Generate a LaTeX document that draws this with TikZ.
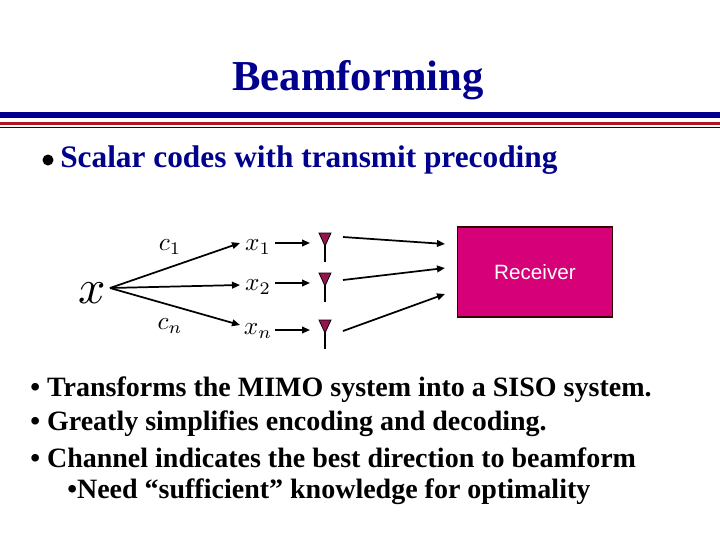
\documentclass[tikz,border=0pt]{standalone}
\usepackage{fontspec}
\setmainfont{Liberation Serif}
\newfontfamily\sansf{Liberation Sans}
\usetikzlibrary{arrows.meta}
\definecolor{navy}{RGB}{0,0,140}
\definecolor{redl}{RGB}{180,20,30}
\definecolor{mag}{RGB}{214,0,120}
\definecolor{antc}{RGB}{150,20,80}
\newcommand{\biglbl}[1]{\scalebox{1.9}{$#1$}}
\begin{document}
\begin{tikzpicture}[x=0.75pt,y=-0.75pt,
  arr/.style={-{Triangle[length=6pt,width=5pt]},line width=1.3pt},
  lbl/.style={inner sep=0pt},
  ant/.style={fill=antc,draw=black,line width=0.6pt},
  body/.style={anchor=west,font=\bfseries\fontsize{21}{21}\selectfont,inner sep=0pt}]
\useasboundingbox (0,0) rectangle (720,540);
\node[text=navy,font=\bfseries\fontsize{32}{32}\selectfont] (title) at (358,80) {Beamforming};
\fill[navy] (0,112) rectangle (720,118);
\fill[redl] (0,122) rectangle (720,124.5);
\fill[navy] (0,126.5) rectangle (720,127.5);
\fill[black] (48,160) circle (5.5);
\node[body,text=navy,font=\bfseries\fontsize{23.5}{23.5}\selectfont] (head) at (60,160) {Scalar codes with transmit precoding};
% diagram
\node[inner sep=0pt] (x) at (92,293) {\scalebox{3.6}{$x$}};
\coordinate (o) at (110,288);
\node[lbl] (x1) at (258,247) {\biglbl{x_1}};
\node[lbl] (x2) at (258,287) {\biglbl{x_2}};
\node[lbl] (xn) at (258,331) {\biglbl{x_n}};
\node[lbl] (c1) at (170,247) {\biglbl{c_1}};
\node[lbl] (cn) at (170,326) {\biglbl{c_n}};
\draw[arr] (o) -- (240,243);
\draw[arr] (o) -- (240,285);
\draw[arr] (o) -- (240,325);
\foreach \n/\y in {1/243,2/283,3/330}{
  \coordinate (s\n) at (275,\y);
  \coordinate (t\n) at (310,\y);
  \draw[arr] (s\n) -- (t\n);
  \draw[line width=1.2pt] (325,\y-10) -- (325,\y+19);
  \draw[ant] (319,\y-10) -- (331,\y-10) -- (325,\y+3) -- cycle;
}
\node[draw=black!80!red,line width=1.2pt,fill=mag,minimum width=155pt*0.75,minimum height=90pt*0.75,inner sep=0pt] (rx) at (535,272) {};
\node[text=white,font=\sansf\fontsize{15.5}{15.5}\selectfont] (rxl) at (535,272) {Receiver};
\coordinate (a1) at (343,237); \coordinate (b1) at (445,244);
\coordinate (a2) at (343,280); \coordinate (b2) at (445,268);
\coordinate (a3) at (343,331); \coordinate (b3) at (445,294);
\draw[arr] (a1) -- (b1);
\draw[arr] (a2) -- (b2);
\draw[arr] (a3) -- (b3);
\node[body] (l1) at (30,390) {• Transforms the MIMO system into a SISO system.};
\node[body] (l2) at (30,424) {• Greatly simplifies encoding and decoding.};
\node[body] (l3) at (30,458) {• Channel indicates the best direction to beamform};
\node[body] (l4) at (67,492) {•Need “sufficient” knowledge for optimality};
\end{tikzpicture}
\end{document}
